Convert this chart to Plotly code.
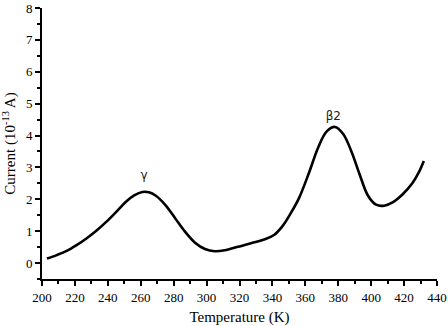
import plotly.graph_objects as go

temperature = [203, 209, 215, 221, 227, 233, 239, 245, 251, 256, 261, 265, 269, 275, 281, 287, 293, 299, 305, 311, 319, 327, 335, 341, 346, 351, 356, 362, 368, 373, 378, 383, 388, 393, 398, 403, 408, 413, 419, 425, 429, 432]
current = [0.14, 0.25, 0.38, 0.56, 0.77, 1.01, 1.29, 1.60, 1.92, 2.12, 2.23, 2.22, 2.12, 1.82, 1.40, 0.98, 0.64, 0.44, 0.37, 0.40, 0.51, 0.62, 0.74, 0.88, 1.15, 1.55, 2.02, 2.80, 3.65, 4.13, 4.27, 4.05, 3.50, 2.78, 2.12, 1.83, 1.80, 1.90, 2.15, 2.50, 2.85, 3.20]

peak_labels = ["γ", "β2"]
peak_x = [262, 377]
peak_y = [2.73, 4.58]

fig = go.Figure()
fig.add_trace(go.Scatter(x=temperature, y=current, mode="lines",
                         line=dict(color="black", width=2.6, shape="spline", smoothing=1.0),
                         showlegend=False, hoverinfo="skip"))
fig.add_trace(go.Scatter(x=peak_x, y=peak_y, mode="text", text=peak_labels,
                         textfont=dict(family="DejaVu Sans", size=12, color="#222"),
                         showlegend=False, hoverinfo="skip"))

serif = "Liberation Serif"
fig.update_layout(
    width=448, height=326,
    margin=dict(l=42, r=11, t=8, b=47),
    paper_bgcolor="white", plot_bgcolor="white",
    font=dict(family=serif, color="black", size=13),
)
fig.update_xaxes(range=[200, 440], tickmode="linear", tick0=200, dtick=20,
                 showgrid=False, zeroline=False, showline=True, linecolor="black",
                 linewidth=2, ticks="outside", ticklen=5, tickwidth=2, tickcolor="black",
                 minor=dict(ticks="outside", dtick=10, ticklen=3, tickwidth=2, tickcolor="black"),
                 tickfont=dict(family=serif, size=13, color="black"),
                 ticklabeloverflow="allow", automargin=False,
                 title=dict(text="Temperature (K)", font=dict(family=serif, size=15)))
fig.update_yaxes(range=[-0.5, 8], tickmode="linear", tick0=0, dtick=1,
                 showgrid=False, zeroline=False, showline=True, linecolor="black",
                 linewidth=2, ticks="outside", ticklen=5, tickwidth=2, tickcolor="black",
                 minor=dict(ticks="outside", dtick=0.5, ticklen=3, tickwidth=2, tickcolor="black"),
                 tickfont=dict(family=serif, size=13, color="black"),
                 ticklabeloverflow="allow", automargin=False,
                 title=dict(text="Current (10<sup>-13</sup> A)", font=dict(family=serif, size=15)))

fig.write_html("out.html")
